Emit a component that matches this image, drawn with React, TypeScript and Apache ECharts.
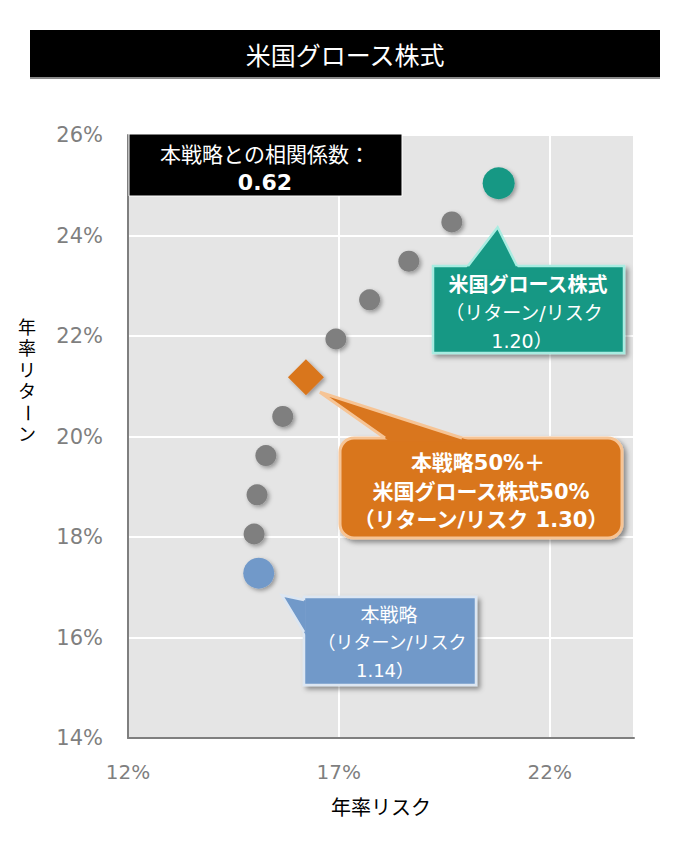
import React, { useEffect, useRef } from 'react';
import * as echarts from 'echarts';

const chartTitle = '米国グロース株式';
const xAxisName = '年率リスク';
const yAxisNameTop = ['年', '率', 'リ', 'タ'];
const yAxisNameDash = 'ー';
const yAxisNameEnd = 'ン';
const xMin = 12;
const xMax = 24;
const xStep = 5;
const yMin = 14;
const yMax = 26;
const yStep = 2;

// gray intermediate portfolios: [risk %, return %]
const grayRisk = [14.99, 15.06, 15.27, 15.67, 16.93, 17.73, 18.66, 19.68];
const grayReturn = [18.06, 18.84, 19.62, 20.4, 21.94, 22.72, 23.49, 24.27];
const strategyPoint = [15.1, 17.28];
const blendPoint = [16.22, 21.18];
const growthPoint = [20.79, 25.04];

const correlationLabel = '本戦略との相関係数：';
const correlationValue = '0.62';
const growthCallout = ['米国グロース株式', '（リターン/リスク', '1.20）'];
const blendCallout = ['本戦略50%＋', '米国グロース株式50%', '（リターン/リスク 1.30）'];
const strategyCallout = ['本戦略', '（リターン/リスク', '1.14）'];

const JP = '"Noto Sans CJK JP", sans-serif';
const MIX = '"DejaVu Sans", "Noto Sans CJK JP", sans-serif';

const GRAY = '#7f7f7f';
const BLUE = '#7199c9';
const ORANGE = '#d9761e';
const TEAL = '#179884';

const shadow = {
  shadowBlur: 5,
  shadowOffsetX: 3,
  shadowOffsetY: 3,
  shadowColor: 'rgba(0,0,0,0.4)',
};

function txt(x: number, y: number, text: string, font: string, fill = '#fff', extra: any = {}) {
  return {
    type: 'text',
    x,
    y,
    z: 110,
    ...extra,
    style: {
      text,
      fill,
      font,
      align: 'center',
      verticalAlign: 'middle',
      textAlign: 'center',
      textVerticalAlign: 'middle',
      ...(extra.style || {}),
    },
  };
}

function callout(
  box: { x: number; y: number; w: number; h: number; r?: number },
  tip: number[],
  b1: number[],
  b2: number[],
  fill: string,
  stroke: string,
  lw: number
) {
  const k = 0.08;
  const ext = (b: number[]) => [b[0] + (b[0] - tip[0]) * k, b[1] + (b[1] - tip[1]) * k];
  return [
    {
      type: 'rect',
      z: 100,
      shape: { x: box.x, y: box.y, width: box.w, height: box.h, r: box.r || 0 },
      style: { fill, stroke, lineWidth: lw, ...shadow },
    },
    {
      type: 'polygon',
      z: 101,
      shape: { points: [ext(b1), tip, ext(b2)] },
      style: { fill },
    },
    {
      type: 'polyline',
      z: 102,
      shape: { points: [b1, tip, b2] },
      style: { fill: null, stroke, lineWidth: lw },
    },
  ];
}

export default function App() {
  const ref = useRef<HTMLDivElement>(null);

  useEffect(() => {
    if (!ref.current) return;
    const chart = echarts.init(ref.current, null, { renderer: 'svg' });
    const itemShadow = {
      opacity: 1,
      shadowBlur: 4,
      shadowOffsetX: 2,
      shadowOffsetY: 2,
      shadowColor: 'rgba(0,0,0,0.35)',
    };
    chart.setOption({
      animation: false,
      grid: {
        left: 128,
        right: 56,
        top: 135,
        bottom: 110,
        show: true,
        backgroundColor: '#e5e5e5',
        borderWidth: 0,
      },
      xAxis: {
        type: 'value',
        min: xMin,
        max: xMax,
        interval: xStep,
        axisLine: { show: true, onZero: false, lineStyle: { color: GRAY, width: 2 } },
        axisTick: { show: false },
        splitLine: { show: true, lineStyle: { color: '#ffffff', width: 2 } },
        axisLabel: {
          formatter: (v: number) => (v === xMax ? '' : v + '%'),
          color: GRAY,
          fontSize: 20,
          fontFamily: MIX,
          margin: 24,
        },
        name: xAxisName,
        nameLocation: 'middle',
        nameGap: 58,
        nameTextStyle: { color: '#000', fontSize: 20, fontFamily: JP },
      },
      yAxis: {
        type: 'value',
        min: yMin,
        max: yMax,
        interval: yStep,
        axisLine: { show: true, onZero: false, lineStyle: { color: GRAY, width: 2 } },
        axisTick: { show: false },
        splitLine: { show: true, lineStyle: { color: '#ffffff', width: 2 } },
        axisLabel: {
          formatter: (v: number) => v + '%',
          color: GRAY,
          fontSize: 21,
          fontFamily: MIX,
          margin: 25,
        },
      },
      series: [
        {
          type: 'scatter',
          data: grayRisk.map((r, i) => [r, grayReturn[i]]),
          symbolSize: 21,
          itemStyle: { color: GRAY, ...itemShadow },
          z: 3,
        },
        {
          type: 'scatter',
          data: [strategyPoint],
          symbolSize: 31,
          itemStyle: { color: BLUE, ...itemShadow },
          z: 4,
        },
        {
          type: 'scatter',
          data: [blendPoint],
          symbol: 'diamond',
          symbolSize: 36,
          itemStyle: { color: ORANGE, ...itemShadow },
          z: 4,
        },
        {
          type: 'scatter',
          data: [growthPoint],
          symbolSize: 32,
          itemStyle: { color: TEAL, ...itemShadow },
          z: 4,
        },
      ],
    });

    const pG = chart.convertToPixel({ gridIndex: 0 }, growthPoint) as number[];
    const pB = chart.convertToPixel({ gridIndex: 0 }, blendPoint) as number[];
    const pS = chart.convertToPixel({ gridIndex: 0 }, strategyPoint) as number[];

    const vStep = 21.5;
    const vTop = 327;

    const graphic: any[] = [
      // title bar
      {
        type: 'rect',
        z: 100,
        shape: { x: 30, y: 30, width: 630, height: 47 },
        style: { fill: '#000', shadowBlur: 0, shadowOffsetY: 2, shadowColor: '#8a8a8a' },
      },
      txt(345, 54, chartTitle, `25px ${JP}`),
      // correlation box
      {
        type: 'rect',
        z: 100,
        shape: { x: 129, y: 134, width: 273, height: 62 },
        style: { fill: '#000', stroke: '#ffffff', lineWidth: 1 },
      },
      txt(265, 153, correlationLabel, `21px ${JP}`),
      txt(265, 182, correlationValue, `bold 22px ${MIX}`),
      // y axis name (vertical, stacked characters)
      ...yAxisNameTop.map((c, i) => txt(27, vTop + i * vStep, c, `18px ${MIX}`, '#000')),
      txt(27, vTop + 4 * vStep, yAxisNameDash, `18px ${MIX}`, '#000', { rotation: -Math.PI / 2 }),
      txt(27, vTop + 5 * vStep, yAxisNameEnd, `18px ${MIX}`, '#000'),
      // growth callout
      ...callout(
        { x: 433, y: 266, w: 191, h: 87 },
        [pG[0] - 1, pG[1] + 44],
        [468, 266],
        [517, 266],
        TEAL,
        '#a9ece1',
        2.5
      ),
      txt(528, 285, growthCallout[0], `bold 20px ${MIX}`),
      txt(524, 313, growthCallout[1], `19px ${MIX}`),
      txt(522, 341, growthCallout[2], `19px ${MIX}`),
      // blend callout
      ...callout(
        { x: 340, y: 438, w: 282, h: 100, r: 14 },
        [pB[0] + 14, pB[1] + 15],
        [385, 438],
        [462, 438],
        ORANGE,
        '#f6c495',
        3
      ),
      txt(478, 463, blendCallout[0], `bold 21px ${MIX}`),
      txt(481, 492, blendCallout[1], `bold 21px ${MIX}`),
      txt(481, 520, blendCallout[2], `bold 21px ${MIX}`),
      // strategy callout
      ...callout(
        { x: 304, y: 597, w: 172, h: 88 },
        [pS[0] + 23, pS[1] + 22],
        [304, 600],
        [304, 632],
        BLUE,
        '#dce6f2',
        2.5
      ),
      txt(389, 615, strategyCallout[0], `19px ${MIX}`),
      txt(392, 642, strategyCallout[1], `18px ${MIX}`),
      txt(385, 670, strategyCallout[2], `18px ${MIX}`),
    ];
    chart.setOption({ graphic });

    return () => chart.dispose();
  }, []);

  return (
    <div
      ref={ref}
      style={{ position: 'fixed', left: 0, top: 0, width: 690, height: 848, background: '#fff' }}
    />
  );
}
